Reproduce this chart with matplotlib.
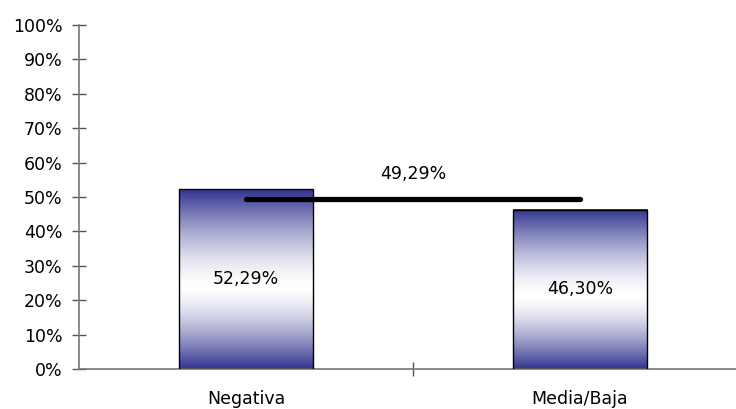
import matplotlib.pyplot as plt
import numpy as np
from matplotlib.ticker import FuncFormatter

plt.rcParams['font.family'] = ['DejaVu Sans']

categories = ['Negativa', 'Media/Baja']
values = [52.29, 46.30]
value_labels = ['52,29%', '46,30%']
average = 49.29
average_label = '49,29%'

fig = plt.figure(figsize=(7.36, 4.09), dpi=100)
ax = fig.add_axes([0.1073, 0.0978, 0.9076, 0.841])

x = np.arange(len(categories))
bar_w = 0.404
bars = ax.bar(x, values, width=bar_w, color='none', edgecolor='black', linewidth=1.0, zorder=3)

# vertical gradient: navy at top and bottom, white a bit below the middle
navy = np.array([0.19, 0.20, 0.56])
p = np.linspace(0, 1, 256)
c = 0.46
d = np.where(p < c, (c - p) / c, (p - c) / (1 - c))
w = 1 - d ** 1.5
grad = (navy[None, :] + (1 - navy[None, :]) * w[:, None])[:, None, :]
for b in bars:
    ax.imshow(grad, aspect='auto', origin='lower', zorder=2,
              extent=[b.get_x(), b.get_x() + b.get_width(), 0, b.get_height()])

fs = 12.5
for xi, v, lab in zip(x, values, value_labels):
    ax.text(xi, v / 2, lab, ha='center', va='center', fontsize=fs, zorder=4)

ax.plot([x[0], x[1]], [average, average], color='black', linewidth=3.8,
        solid_capstyle='round', zorder=5)
ax.text((x[0] + x[1]) / 2, average + 7.5, average_label, ha='center', va='center', fontsize=fs)

ax.set_xlim(-0.5, 1.5)
ax.set_ylim(0, 100)
ax.set_yticks(np.arange(0, 101, 10))
ax.yaxis.set_major_formatter(FuncFormatter(lambda v, p: '%d%%' % v))
ax.set_xticks([0.5])
ax.set_xticklabels([''])
ax.set_xticks(x, minor=True)
ax.set_xticklabels(categories, minor=True)
ax.tick_params(axis='x', which='minor', length=0, pad=15, labelsize=fs)
ax.tick_params(axis='x', which='major', direction='inout', length=10, width=1, color='#555555')
ax.tick_params(axis='y', direction='inout', length=10, width=1, color='#555555', labelsize=fs, pad=7)

for s in ['top', 'right']:
    ax.spines[s].set_visible(False)
for s in ['left', 'bottom']:
    ax.spines[s].set_color('#777777')
    ax.spines[s].set_linewidth(1.2)

fig.savefig('out.png', dpi=100)
